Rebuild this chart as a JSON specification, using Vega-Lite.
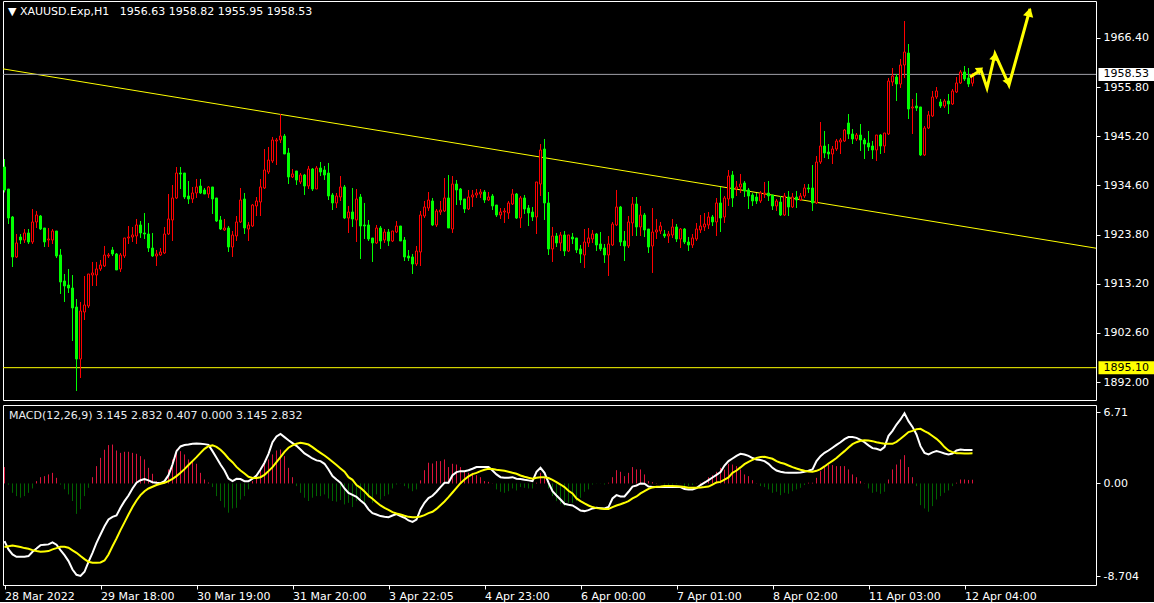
{
"$schema": "https://vega.github.io/schema/vega-lite/v6.json",
"background": "#000000",
"padding": 0,
"spacing": 3,
"config": {
 "view": {"stroke": "#FFFFFF", "strokeWidth": 1},
 "font": "DejaVu Sans",
 "scale": {"continuousPadding": 0},
 "axis": {"grid": false, "domain": false, "ticks": true, "tickColor": "#FFFFFF", "tickSize": 4, "labelColor": "#FFFFFF", "labelFont": "DejaVu Sans", "labelFontSize": 11, "title": null, "labelBound": false, "labelFlush": false, "labelOverlap": false}
},
"datasets": {
"bars": [
{"n":0,"open":1938.5,"high":1940.23,"low":1933.0,"close":1933.53,"macd":-5.42,"signal":-5.98,"hist":1.54},
{"n":1,"open":1933.74,"high":1933.74,"low":1926.17,"close":1927.47,"macd":-6.2,"signal":-5.9,"hist":-0.11},
{"n":2,"open":1927.69,"high":1927.9,"low":1916.87,"close":1919.04,"macd":-6.68,"signal":-5.83,"hist":-0.88},
{"n":3,"open":1919.04,"high":1924.01,"low":1918.82,"close":1922.07,"macd":-6.9,"signal":-5.9,"hist":-1.19},
{"n":4,"open":1923.36,"high":1924.01,"low":1921.85,"close":1922.71,"macd":-6.9,"signal":-5.98,"hist":-1.34},
{"n":5,"open":1922.71,"high":1925.09,"low":1922.07,"close":1924.23,"macd":-6.9,"signal":-6.08,"hist":-1.19},
{"n":6,"open":1924.23,"high":1925.09,"low":1921.85,"close":1922.28,"macd":-6.83,"signal":-6.14,"hist":-0.88},
{"n":7,"open":1922.28,"high":1929.42,"low":1921.85,"close":1926.61,"macd":-6.42,"signal":-6.27,"hist":-0.47},
{"n":8,"open":1926.61,"high":1928.99,"low":1925.31,"close":1928.12,"macd":-6.12,"signal":-6.36,"hist":0.22},
{"n":9,"open":1927.9,"high":1928.12,"low":1924.88,"close":1925.09,"macd":-5.8,"signal":-6.42,"hist":0.59},
{"n":10,"open":1925.31,"high":1925.31,"low":1921.2,"close":1922.28,"macd":-5.76,"signal":-6.39,"hist":0.69},
{"n":11,"open":1922.71,"high":1925.31,"low":1921.2,"close":1922.93,"macd":-5.73,"signal":-6.36,"hist":0.85},
{"n":12,"open":1922.71,"high":1925.09,"low":1921.85,"close":1924.66,"macd":-5.54,"signal":-6.2,"hist":1.0},
{"n":13,"open":1924.66,"high":1924.66,"low":1918.82,"close":1919.25,"macd":-5.76,"signal":-6.08,"hist":0.53},
{"n":14,"open":1919.47,"high":1920.77,"low":1911.04,"close":1913.63,"macd":-6.27,"signal":-5.95,"hist":-0.11},
{"n":15,"open":1913.85,"high":1915.36,"low":1909.31,"close":1912.77,"macd":-6.74,"signal":-5.95,"hist":-0.55},
{"n":16,"open":1912.98,"high":1916.44,"low":1911.25,"close":1912.33,"macd":-7.3,"signal":-6.05,"hist":-1.03},
{"n":17,"open":1912.33,"high":1915.14,"low":1900.87,"close":1908.01,"macd":-8.09,"signal":-6.3,"hist":-1.65},
{"n":18,"open":1908.22,"high":1909.95,"low":1890.06,"close":1896.98,"macd":-8.59,"signal":-6.52,"hist":-2.86},
{"n":19,"open":1896.98,"high":1909.31,"low":1892.87,"close":1907.36,"macd":-8.7,"signal":-6.83,"hist":-2.42},
{"n":20,"open":1907.14,"high":1914.93,"low":1905.41,"close":1908.66,"macd":-8.31,"signal":-7.12,"hist":-1.19},
{"n":21,"open":1908.44,"high":1915.36,"low":1908.01,"close":1915.36,"macd":-7.37,"signal":-7.37,"hist":-0.41},
{"n":22,"open":1915.14,"high":1917.96,"low":1912.77,"close":1915.58,"macd":-6.52,"signal":-7.46,"hist":0.59},
{"n":23,"open":1915.14,"high":1917.96,"low":1912.77,"close":1916.44,"macd":-5.58,"signal":-7.46,"hist":1.63},
{"n":24,"open":1916.44,"high":1918.39,"low":1916.01,"close":1917.31,"macd":-4.8,"signal":-7.43,"hist":2.41},
{"n":25,"open":1917.09,"high":1921.42,"low":1916.87,"close":1919.47,"macd":-4.02,"signal":-7.24,"hist":3.17},
{"n":26,"open":1919.25,"high":1919.9,"low":1918.82,"close":1919.47,"macd":-3.39,"signal":-6.68,"hist":3.61},
{"n":27,"open":1920.55,"high":1921.2,"low":1919.25,"close":1919.69,"macd":-3.14,"signal":-5.9,"hist":3.66},
{"n":28,"open":1919.69,"high":1919.9,"low":1916.23,"close":1916.23,"macd":-3.01,"signal":-5.17,"hist":3.1},
{"n":29,"open":1916.44,"high":1919.9,"low":1915.79,"close":1919.47,"macd":-2.29,"signal":-4.39,"hist":2.88},
{"n":30,"open":1919.25,"high":1923.15,"low":1918.82,"close":1923.15,"macd":-1.66,"signal":-3.66,"hist":2.98},
{"n":31,"open":1923.15,"high":1925.74,"low":1921.85,"close":1923.36,"macd":-1.13,"signal":-2.92,"hist":2.98},
{"n":32,"open":1923.36,"high":1925.53,"low":1922.28,"close":1923.8,"macd":-0.47,"signal":-2.22,"hist":2.88},
{"n":33,"open":1923.58,"high":1927.26,"low":1921.85,"close":1925.96,"macd":0.07,"signal":-1.6,"hist":2.79},
{"n":34,"open":1925.96,"high":1926.82,"low":1923.15,"close":1924.23,"macd":0.31,"signal":-1.1,"hist":2.57},
{"n":35,"open":1924.23,"high":1928.55,"low":1922.93,"close":1924.01,"macd":0.41,"signal":-0.73,"hist":2.26},
{"n":36,"open":1924.01,"high":1926.39,"low":1920.12,"close":1920.98,"macd":0.29,"signal":-0.47,"hist":1.47},
{"n":37,"open":1920.98,"high":1924.23,"low":1919.04,"close":1919.25,"macd":0.12,"signal":-0.31,"hist":0.91},
{"n":38,"open":1919.25,"high":1920.55,"low":1917.09,"close":1919.69,"macd":0.07,"signal":-0.15,"hist":0.22},
{"n":39,"open":1919.47,"high":1920.98,"low":1919.25,"close":1920.12,"macd":0.03,"signal":-0.03,"hist":0.02},
{"n":40,"open":1919.9,"high":1925.53,"low":1919.69,"close":1924.01,"macd":0.22,"signal":0.07,"hist":0.22},
{"n":41,"open":1924.01,"high":1932.66,"low":1923.8,"close":1927.26,"macd":0.78,"signal":0.22,"hist":1.32},
{"n":42,"open":1927.04,"high":1934.61,"low":1922.5,"close":1931.8,"macd":1.78,"signal":0.44,"hist":2.26},
{"n":43,"open":1931.8,"high":1938.5,"low":1931.58,"close":1937.2,"macd":3.04,"signal":0.69,"hist":3.19},
{"n":44,"open":1937.2,"high":1938.5,"low":1933.74,"close":1936.99,"macd":3.48,"signal":1.0,"hist":3.04},
{"n":45,"open":1937.2,"high":1937.2,"low":1931.58,"close":1932.01,"macd":3.61,"signal":1.35,"hist":2.73},
{"n":46,"open":1932.23,"high":1935.47,"low":1930.5,"close":1931.58,"macd":3.66,"signal":1.73,"hist":2.26},
{"n":47,"open":1931.58,"high":1934.18,"low":1930.72,"close":1932.88,"macd":3.73,"signal":2.1,"hist":2.09},
{"n":48,"open":1932.88,"high":1935.91,"low":1931.8,"close":1934.18,"macd":3.76,"signal":2.48,"hist":1.85},
{"n":49,"open":1934.39,"high":1935.91,"low":1932.66,"close":1932.88,"macd":3.73,"signal":2.88,"hist":1.0},
{"n":50,"open":1933.53,"high":1933.96,"low":1932.66,"close":1932.66,"macd":3.7,"signal":3.26,"hist":0.37},
{"n":51,"open":1932.66,"high":1934.39,"low":1931.8,"close":1934.18,"macd":3.63,"signal":3.51,"hist":0.09},
{"n":52,"open":1934.18,"high":1934.18,"low":1928.34,"close":1931.58,"macd":3.04,"signal":3.58,"hist":-0.34},
{"n":53,"open":1931.8,"high":1931.8,"low":1926.61,"close":1926.82,"macd":2.41,"signal":3.44,"hist":-1.19},
{"n":54,"open":1927.04,"high":1927.9,"low":1924.88,"close":1925.09,"macd":1.78,"signal":3.17,"hist":-1.65},
{"n":55,"open":1924.88,"high":1927.26,"low":1924.66,"close":1925.31,"macd":1.22,"signal":2.79,"hist":-2.26},
{"n":56,"open":1925.31,"high":1925.74,"low":1920.12,"close":1921.2,"macd":0.47,"signal":2.35,"hist":-2.75},
{"n":57,"open":1921.2,"high":1924.66,"low":1919.04,"close":1923.8,"macd":0.22,"signal":2.0,"hist":-2.35},
{"n":58,"open":1923.58,"high":1927.9,"low":1922.5,"close":1926.61,"macd":0.44,"signal":1.56,"hist":-2.29},
{"n":59,"open":1926.61,"high":1933.96,"low":1926.39,"close":1931.36,"macd":0.41,"signal":1.22,"hist":-1.51},
{"n":60,"open":1931.58,"high":1932.88,"low":1924.01,"close":1925.31,"macd":0.22,"signal":0.94,"hist":-1.19},
{"n":61,"open":1925.09,"high":1926.61,"low":1922.5,"close":1925.96,"macd":0.22,"signal":0.63,"hist":-0.55},
{"n":62,"open":1925.74,"high":1930.5,"low":1925.53,"close":1930.28,"macd":0.44,"signal":0.51,"hist":0.22},
{"n":63,"open":1930.07,"high":1932.01,"low":1927.9,"close":1931.15,"macd":0.75,"signal":0.51,"hist":0.69},
{"n":64,"open":1930.93,"high":1935.91,"low":1927.9,"close":1934.18,"macd":1.32,"signal":0.59,"hist":1.32},
{"n":65,"open":1933.96,"high":1942.39,"low":1933.74,"close":1937.85,"macd":1.95,"signal":0.81,"hist":1.95},
{"n":66,"open":1937.42,"high":1942.83,"low":1936.99,"close":1940.01,"macd":2.79,"signal":1.16,"hist":2.26},
{"n":67,"open":1939.8,"high":1944.99,"low":1939.37,"close":1944.34,"macd":3.88,"signal":1.54,"hist":2.73},
{"n":68,"open":1944.12,"high":1944.77,"low":1938.93,"close":1944.34,"macd":4.42,"signal":2.0,"hist":3.1},
{"n":69,"open":1944.34,"high":1949.96,"low":1943.69,"close":1945.2,"macd":4.66,"signal":2.48,"hist":3.19},
{"n":70,"open":1945.2,"high":1945.64,"low":1941.31,"close":1941.31,"macd":4.36,"signal":2.98,"hist":2.57},
{"n":71,"open":1941.53,"high":1942.61,"low":1934.82,"close":1936.34,"macd":4.07,"signal":3.36,"hist":1.47},
{"n":72,"open":1936.34,"high":1938.07,"low":1936.12,"close":1936.99,"macd":3.8,"signal":3.58,"hist":0.59},
{"n":73,"open":1937.64,"high":1937.64,"low":1934.61,"close":1935.69,"macd":3.54,"signal":3.73,"hist":-0.25},
{"n":74,"open":1935.26,"high":1937.2,"low":1934.82,"close":1936.77,"macd":3.2,"signal":3.83,"hist":-0.88},
{"n":75,"open":1936.77,"high":1936.99,"low":1932.45,"close":1934.39,"macd":2.82,"signal":3.76,"hist":-1.34},
{"n":76,"open":1934.39,"high":1938.72,"low":1933.74,"close":1938.07,"macd":2.6,"signal":3.66,"hist":-1.65},
{"n":77,"open":1938.07,"high":1938.28,"low":1933.31,"close":1933.74,"macd":2.35,"signal":3.42,"hist":-1.34},
{"n":78,"open":1933.74,"high":1938.72,"low":1933.74,"close":1938.28,"macd":2.17,"signal":3.14,"hist":-1.19},
{"n":79,"open":1938.28,"high":1939.58,"low":1936.55,"close":1937.42,"macd":2.1,"signal":2.88,"hist":-1.19},
{"n":80,"open":1937.85,"high":1938.72,"low":1935.69,"close":1936.77,"macd":1.85,"signal":2.63,"hist":-1.03},
{"n":81,"open":1937.2,"high":1939.37,"low":1931.36,"close":1932.23,"macd":1.32,"signal":2.35,"hist":-1.41},
{"n":82,"open":1932.45,"high":1932.88,"low":1929.2,"close":1930.72,"macd":0.69,"signal":2.04,"hist":-1.65},
{"n":83,"open":1930.72,"high":1932.88,"low":1929.63,"close":1932.23,"macd":0.37,"signal":1.73,"hist":-1.71},
{"n":84,"open":1932.01,"high":1936.55,"low":1931.15,"close":1934.18,"macd":0.07,"signal":1.41,"hist":-1.56},
{"n":85,"open":1934.18,"high":1934.61,"low":1927.26,"close":1927.47,"macd":-0.47,"signal":1.1,"hist":-1.97},
{"n":86,"open":1927.47,"high":1930.07,"low":1924.23,"close":1928.77,"macd":-0.88,"signal":0.59,"hist":-1.82},
{"n":87,"open":1928.77,"high":1933.96,"low":1925.53,"close":1927.26,"macd":-1.07,"signal":0.34,"hist":-2.22},
{"n":88,"open":1927.04,"high":1933.74,"low":1922.28,"close":1931.58,"macd":-1.25,"signal":-0.15,"hist":-1.66},
{"n":89,"open":1932.01,"high":1932.66,"low":1918.6,"close":1925.74,"macd":-1.6,"signal":-0.41,"hist":-1.66},
{"n":90,"open":1925.96,"high":1930.72,"low":1922.93,"close":1925.74,"macd":-1.91,"signal":-0.75,"hist":-1.82},
{"n":91,"open":1925.96,"high":1927.04,"low":1922.5,"close":1922.93,"macd":-2.44,"signal":-1.16,"hist":-1.35},
{"n":92,"open":1923.15,"high":1923.15,"low":1917.96,"close":1922.07,"macd":-2.79,"signal":-1.44,"hist":-1.82},
{"n":93,"open":1922.07,"high":1925.96,"low":1921.85,"close":1925.31,"macd":-2.92,"signal":-1.76,"hist":-1.03},
{"n":94,"open":1925.31,"high":1925.74,"low":1920.77,"close":1922.5,"macd":-3.07,"signal":-2.07,"hist":-1.51},
{"n":95,"open":1922.71,"high":1925.09,"low":1922.07,"close":1924.44,"macd":-3.14,"signal":-2.29,"hist":-1.19},
{"n":96,"open":1924.44,"high":1925.09,"low":1921.42,"close":1922.5,"macd":-3.17,"signal":-2.48,"hist":-1.03},
{"n":97,"open":1922.5,"high":1924.66,"low":1922.28,"close":1924.66,"macd":-3.01,"signal":-2.7,"hist":-0.47},
{"n":98,"open":1924.44,"high":1926.82,"low":1924.23,"close":1925.74,"macd":-2.88,"signal":-2.82,"hist":-0.1},
{"n":99,"open":1925.74,"high":1925.74,"low":1922.5,"close":1922.5,"macd":-3.07,"signal":-2.92,"hist":-0.02},
{"n":100,"open":1922.71,"high":1923.36,"low":1918.17,"close":1919.04,"macd":-3.22,"signal":-3.04,"hist":-0.25},
{"n":101,"open":1919.25,"high":1920.55,"low":1918.17,"close":1918.82,"macd":-3.48,"signal":-3.14,"hist":-0.47},
{"n":102,"open":1919.04,"high":1919.69,"low":1915.36,"close":1917.52,"macd":-3.61,"signal":-3.17,"hist":-0.73},
{"n":103,"open":1917.52,"high":1921.42,"low":1917.09,"close":1920.33,"macd":-3.39,"signal":-3.17,"hist":-0.56},
{"n":104,"open":1920.12,"high":1928.99,"low":1917.09,"close":1928.12,"macd":-2.44,"signal":-3.1,"hist":0.29},
{"n":105,"open":1927.9,"high":1931.15,"low":1927.47,"close":1929.85,"macd":-1.82,"signal":-2.98,"hist":1.25},
{"n":106,"open":1929.63,"high":1933.09,"low":1928.99,"close":1931.36,"macd":-1.38,"signal":-2.79,"hist":1.95},
{"n":107,"open":1931.15,"high":1931.8,"low":1925.74,"close":1925.96,"macd":-1.16,"signal":-2.66,"hist":1.88},
{"n":108,"open":1925.96,"high":1929.42,"low":1925.53,"close":1928.99,"macd":-0.78,"signal":-2.39,"hist":2.1},
{"n":109,"open":1928.77,"high":1931.15,"low":1928.12,"close":1929.2,"macd":-0.34,"signal":-2.04,"hist":2.1},
{"n":110,"open":1928.99,"high":1936.12,"low":1928.77,"close":1931.8,"macd":0.07,"signal":-1.69,"hist":2.26},
{"n":111,"open":1931.8,"high":1936.77,"low":1925.31,"close":1925.31,"macd":0.07,"signal":-1.29,"hist":1.54},
{"n":112,"open":1925.09,"high":1936.55,"low":1924.23,"close":1934.82,"macd":0.78,"signal":-0.85,"hist":1.85},
{"n":113,"open":1934.82,"high":1935.69,"low":1930.28,"close":1933.53,"macd":1.07,"signal":-0.41,"hist":1.78},
{"n":114,"open":1933.74,"high":1933.96,"low":1930.28,"close":1931.36,"macd":1.16,"signal":0.03,"hist":1.54},
{"n":115,"open":1931.58,"high":1931.58,"low":1928.55,"close":1929.42,"macd":1.16,"signal":0.37,"hist":1.16},
{"n":116,"open":1929.42,"high":1933.53,"low":1929.2,"close":1932.01,"macd":1.25,"signal":0.66,"hist":1.0},
{"n":117,"open":1932.01,"high":1933.53,"low":1929.85,"close":1932.45,"macd":1.38,"signal":0.88,"hist":1.0},
{"n":118,"open":1932.45,"high":1933.74,"low":1931.8,"close":1932.88,"macd":1.54,"signal":1.0,"hist":0.78},
{"n":119,"open":1932.66,"high":1933.74,"low":1931.8,"close":1933.09,"macd":1.56,"signal":1.16,"hist":0.59},
{"n":120,"open":1933.09,"high":1933.53,"low":1930.72,"close":1931.36,"macd":1.56,"signal":1.29,"hist":0.22},
{"n":121,"open":1931.36,"high":1933.09,"low":1931.15,"close":1932.01,"macd":1.54,"signal":1.38,"hist":0.15},
{"n":122,"open":1932.23,"high":1932.66,"low":1929.2,"close":1930.07,"macd":1.22,"signal":1.35,"hist":0.02},
{"n":123,"open":1930.28,"high":1930.28,"low":1927.69,"close":1928.12,"macd":0.85,"signal":1.29,"hist":-0.56},
{"n":124,"open":1928.12,"high":1929.63,"low":1927.26,"close":1928.77,"macd":0.59,"signal":1.25,"hist":-0.78},
{"n":125,"open":1928.77,"high":1929.63,"low":1926.39,"close":1928.99,"macd":0.53,"signal":1.19,"hist":-0.88},
{"n":126,"open":1928.55,"high":1931.15,"low":1927.26,"close":1930.72,"macd":0.53,"signal":1.1,"hist":-0.73},
{"n":127,"open":1930.5,"high":1933.74,"low":1930.28,"close":1932.66,"macd":0.59,"signal":1.0,"hist":-0.47},
{"n":128,"open":1932.66,"high":1932.88,"low":1927.26,"close":1927.47,"macd":0.44,"signal":0.91,"hist":-0.66},
{"n":129,"open":1927.47,"high":1932.23,"low":1925.31,"close":1931.8,"macd":0.41,"signal":0.75,"hist":-0.34},
{"n":130,"open":1931.8,"high":1932.45,"low":1928.34,"close":1929.42,"macd":0.34,"signal":0.63,"hist":-0.41},
{"n":131,"open":1929.63,"high":1930.28,"low":1925.74,"close":1928.55,"macd":0.29,"signal":0.53,"hist":-0.47},
{"n":132,"open":1928.77,"high":1929.85,"low":1926.82,"close":1927.69,"macd":0.22,"signal":0.44,"hist":-0.47},
{"n":133,"open":1927.69,"high":1935.26,"low":1924.01,"close":1935.26,"macd":1.1,"signal":0.53,"hist":0.07},
{"n":134,"open":1934.82,"high":1943.47,"low":1932.23,"close":1942.18,"macd":1.47,"signal":0.59,"hist":1.0},
{"n":135,"open":1942.39,"high":1944.56,"low":1927.04,"close":1930.72,"macd":1.0,"signal":0.59,"hist":0.53},
{"n":136,"open":1930.72,"high":1933.09,"low":1919.47,"close":1920.77,"macd":0.07,"signal":0.51,"hist":-0.47},
{"n":137,"open":1920.77,"high":1925.53,"low":1917.96,"close":1923.58,"macd":-0.73,"signal":0.34,"hist":-1.19},
{"n":138,"open":1923.58,"high":1924.23,"low":1921.2,"close":1922.07,"macd":-1.13,"signal":0.12,"hist":-1.66},
{"n":139,"open":1922.07,"high":1924.44,"low":1920.33,"close":1923.8,"macd":-1.51,"signal":-0.1,"hist":-1.91},
{"n":140,"open":1923.8,"high":1924.66,"low":1919.25,"close":1920.33,"macd":-1.91,"signal":-0.34,"hist":-2.13},
{"n":141,"open":1920.33,"high":1923.8,"low":1920.12,"close":1923.8,"macd":-2.0,"signal":-0.69,"hist":-1.82},
{"n":142,"open":1923.36,"high":1924.23,"low":1921.85,"close":1922.93,"macd":-2.07,"signal":-0.94,"hist":-1.82},
{"n":143,"open":1923.15,"high":1923.15,"low":1919.9,"close":1920.55,"macd":-2.29,"signal":-1.41,"hist":-1.66},
{"n":144,"open":1920.77,"high":1921.63,"low":1917.74,"close":1919.69,"macd":-2.54,"signal":-1.66,"hist":-1.35},
{"n":145,"open":1919.47,"high":1925.09,"low":1916.66,"close":1922.28,"macd":-2.6,"signal":-1.88,"hist":-0.78},
{"n":146,"open":1922.07,"high":1925.31,"low":1921.2,"close":1923.15,"macd":-2.51,"signal":-2.07,"hist":-0.56},
{"n":147,"open":1922.93,"high":1924.88,"low":1922.07,"close":1924.01,"macd":-2.35,"signal":-2.22,"hist":-0.1},
{"n":148,"open":1924.01,"high":1924.23,"low":1920.33,"close":1921.63,"macd":-2.29,"signal":-2.32,"hist":-0.02},
{"n":149,"open":1921.85,"high":1924.44,"low":1920.33,"close":1920.77,"macd":-2.32,"signal":-2.35,"hist":-0.02},
{"n":150,"open":1920.98,"high":1921.85,"low":1917.74,"close":1919.47,"macd":-2.35,"signal":-2.39,"hist":-0.1},
{"n":151,"open":1919.47,"high":1923.58,"low":1914.93,"close":1921.85,"macd":-2.22,"signal":-2.39,"hist":0.07},
{"n":152,"open":1921.63,"high":1926.61,"low":1921.42,"close":1926.17,"macd":-1.41,"signal":-2.22,"hist":0.59},
{"n":153,"open":1925.96,"high":1933.53,"low":1925.74,"close":1929.85,"macd":-1.1,"signal":-2.07,"hist":1.25},
{"n":154,"open":1929.85,"high":1930.07,"low":1921.42,"close":1922.28,"macd":-1.22,"signal":-1.95,"hist":1.1},
{"n":155,"open":1922.5,"high":1924.66,"low":1918.17,"close":1921.42,"macd":-1.22,"signal":-1.82,"hist":0.69},
{"n":156,"open":1921.42,"high":1927.9,"low":1920.98,"close":1926.61,"macd":-0.78,"signal":-1.66,"hist":1.0},
{"n":157,"open":1926.39,"high":1932.01,"low":1923.58,"close":1930.5,"macd":-0.29,"signal":-1.41,"hist":1.54},
{"n":158,"open":1930.5,"high":1932.01,"low":1923.58,"close":1925.53,"macd":-0.19,"signal":-1.22,"hist":1.32},
{"n":159,"open":1925.53,"high":1930.07,"low":1923.58,"close":1928.12,"macd":0.0,"signal":-0.94,"hist":1.32},
{"n":160,"open":1928.12,"high":1928.55,"low":1923.36,"close":1924.88,"macd":-0.03,"signal":-0.73,"hist":0.85},
{"n":161,"open":1925.09,"high":1925.09,"low":1919.9,"close":1921.2,"macd":-0.29,"signal":-0.51,"hist":0.22},
{"n":162,"open":1921.42,"high":1929.63,"low":1915.58,"close":1924.44,"macd":-0.34,"signal":-0.37,"hist":0.12},
{"n":163,"open":1924.44,"high":1927.26,"low":1922.93,"close":1924.88,"macd":-0.34,"signal":-0.31,"hist":0.03},
{"n":164,"open":1924.66,"high":1926.61,"low":1924.01,"close":1925.74,"macd":-0.34,"signal":-0.29,"hist":-0.02},
{"n":165,"open":1924.01,"high":1924.88,"low":1923.15,"close":1923.58,"macd":-0.34,"signal":-0.25,"hist":-0.1},
{"n":166,"open":1923.58,"high":1924.66,"low":1922.07,"close":1924.01,"macd":-0.34,"signal":-0.25,"hist":-0.13},
{"n":167,"open":1923.8,"high":1927.26,"low":1923.15,"close":1925.53,"macd":-0.34,"signal":-0.25,"hist":-0.1},
{"n":168,"open":1925.53,"high":1926.17,"low":1922.28,"close":1922.93,"macd":-0.31,"signal":-0.26,"hist":-0.06},
{"n":169,"open":1922.93,"high":1925.31,"low":1920.98,"close":1925.09,"macd":-0.34,"signal":-0.29,"hist":-0.02},
{"n":170,"open":1925.09,"high":1925.31,"low":1921.85,"close":1922.28,"macd":-0.53,"signal":-0.34,"hist":-0.34},
{"n":171,"open":1922.28,"high":1923.36,"low":1920.33,"close":1921.63,"macd":-0.56,"signal":-0.41,"hist":-0.25},
{"n":172,"open":1921.63,"high":1924.01,"low":1920.98,"close":1923.15,"macd":-0.56,"signal":-0.41,"hist":-0.15},
{"n":173,"open":1922.93,"high":1926.39,"low":1922.5,"close":1925.09,"macd":-0.44,"signal":-0.41,"hist":0.02},
{"n":174,"open":1924.88,"high":1928.12,"low":1924.23,"close":1925.74,"macd":-0.15,"signal":-0.37,"hist":0.07},
{"n":175,"open":1925.53,"high":1928.55,"low":1924.66,"close":1926.17,"macd":0.07,"signal":-0.34,"hist":0.22},
{"n":176,"open":1925.96,"high":1928.77,"low":1925.09,"close":1927.69,"macd":0.31,"signal":-0.29,"hist":0.59},
{"n":177,"open":1927.69,"high":1928.12,"low":1925.74,"close":1926.61,"macd":0.56,"signal":-0.1,"hist":0.78},
{"n":178,"open":1926.61,"high":1931.8,"low":1923.58,"close":1930.72,"macd":0.81,"signal":0.1,"hist":1.1},
{"n":179,"open":1930.72,"high":1934.18,"low":1924.44,"close":1927.47,"macd":1.07,"signal":0.15,"hist":1.47},
{"n":180,"open":1927.69,"high":1932.23,"low":1926.39,"close":1931.8,"macd":1.69,"signal":0.37,"hist":1.3},
{"n":181,"open":1931.58,"high":1937.85,"low":1930.07,"close":1936.55,"macd":2.1,"signal":0.56,"hist":1.85},
{"n":182,"open":1936.77,"high":1937.64,"low":1929.85,"close":1931.8,"macd":2.35,"signal":1.0,"hist":1.78},
{"n":183,"open":1933.74,"high":1935.47,"low":1932.23,"close":1934.18,"macd":2.6,"signal":1.22,"hist":1.63},
{"n":184,"open":1934.18,"high":1936.99,"low":1932.88,"close":1934.82,"macd":2.79,"signal":1.51,"hist":1.32},
{"n":185,"open":1935.04,"high":1935.47,"low":1932.01,"close":1933.31,"macd":2.73,"signal":1.82,"hist":0.85},
{"n":186,"open":1933.53,"high":1933.96,"low":1929.42,"close":1932.23,"macd":2.6,"signal":2.04,"hist":0.69},
{"n":187,"open":1932.45,"high":1932.88,"low":1930.07,"close":1931.15,"macd":2.39,"signal":2.22,"hist":0.31},
{"n":188,"open":1932.01,"high":1932.88,"low":1930.5,"close":1931.15,"macd":2.26,"signal":2.39,"hist":0.02},
{"n":189,"open":1931.15,"high":1933.31,"low":1930.72,"close":1932.88,"macd":2.2,"signal":2.48,"hist":-0.25},
{"n":190,"open":1932.66,"high":1935.26,"low":1931.8,"close":1932.88,"macd":2.1,"signal":2.51,"hist":-0.34},
{"n":191,"open":1932.88,"high":1935.47,"low":1931.15,"close":1932.23,"macd":1.85,"signal":2.41,"hist":-0.56},
{"n":192,"open":1932.45,"high":1932.45,"low":1929.2,"close":1930.07,"macd":1.47,"signal":2.32,"hist":-0.88},
{"n":193,"open":1930.07,"high":1931.58,"low":1928.99,"close":1931.15,"macd":1.22,"signal":2.1,"hist":-0.78},
{"n":194,"open":1930.93,"high":1932.23,"low":1927.9,"close":1928.12,"macd":1.1,"signal":1.95,"hist":-1.1},
{"n":195,"open":1928.12,"high":1932.88,"low":1927.9,"close":1932.23,"macd":1.03,"signal":1.85,"hist":-0.88},
{"n":196,"open":1932.01,"high":1933.31,"low":1927.9,"close":1929.85,"macd":1.0,"signal":1.69,"hist":-0.97},
{"n":197,"open":1929.85,"high":1932.88,"low":1929.63,"close":1932.01,"macd":1.0,"signal":1.54,"hist":-0.73},
{"n":198,"open":1932.01,"high":1933.31,"low":1929.63,"close":1931.36,"macd":1.0,"signal":1.41,"hist":-0.56},
{"n":199,"open":1931.36,"high":1932.88,"low":1931.15,"close":1932.23,"macd":1.03,"signal":1.29,"hist":-0.41},
{"n":200,"open":1932.23,"high":1934.82,"low":1931.8,"close":1933.96,"macd":1.1,"signal":1.19,"hist":-0.15},
{"n":201,"open":1933.96,"high":1934.82,"low":1932.88,"close":1933.74,"macd":1.19,"signal":1.13,"hist":0.07},
{"n":202,"open":1933.96,"high":1938.93,"low":1928.99,"close":1930.72,"macd":1.32,"signal":1.1,"hist":0.07},
{"n":203,"open":1930.72,"high":1940.88,"low":1930.5,"close":1939.58,"macd":2.1,"signal":1.19,"hist":0.53},
{"n":204,"open":1939.58,"high":1948.23,"low":1939.15,"close":1943.04,"macd":2.57,"signal":1.35,"hist":1.16},
{"n":205,"open":1943.04,"high":1946.29,"low":1940.45,"close":1941.53,"macd":2.88,"signal":1.6,"hist":1.63},
{"n":206,"open":1941.74,"high":1943.47,"low":1940.23,"close":1941.31,"macd":3.1,"signal":1.88,"hist":1.78},
{"n":207,"open":1941.31,"high":1943.04,"low":1939.15,"close":1942.39,"macd":3.36,"signal":2.13,"hist":1.73},
{"n":208,"open":1942.39,"high":1944.56,"low":1941.96,"close":1944.12,"macd":3.63,"signal":2.39,"hist":1.63},
{"n":209,"open":1943.91,"high":1944.77,"low":1941.31,"close":1944.34,"macd":3.88,"signal":2.73,"hist":1.63},
{"n":210,"open":1944.12,"high":1946.72,"low":1943.91,"close":1946.5,"macd":4.17,"signal":3.04,"hist":1.63},
{"n":211,"open":1948.02,"high":1949.96,"low":1944.56,"close":1945.64,"macd":4.36,"signal":3.39,"hist":1.32},
{"n":212,"open":1945.64,"high":1946.72,"low":1943.47,"close":1944.56,"macd":4.36,"signal":3.7,"hist":0.85},
{"n":213,"open":1944.56,"high":1945.85,"low":1944.12,"close":1945.42,"macd":4.29,"signal":3.88,"hist":0.59},
{"n":214,"open":1945.42,"high":1947.8,"low":1941.96,"close":1944.34,"macd":4.1,"signal":4.02,"hist":0.22},
{"n":215,"open":1944.34,"high":1944.77,"low":1940.23,"close":1943.47,"macd":3.88,"signal":4.07,"hist":0.02},
{"n":216,"open":1943.69,"high":1946.29,"low":1941.96,"close":1942.83,"macd":3.58,"signal":4.05,"hist":-0.47},
{"n":217,"open":1943.04,"high":1944.12,"low":1940.23,"close":1942.18,"macd":3.32,"signal":3.98,"hist":-0.88},
{"n":218,"open":1942.18,"high":1945.42,"low":1939.8,"close":1945.42,"macd":3.26,"signal":3.88,"hist":-0.78},
{"n":219,"open":1945.42,"high":1945.64,"low":1941.31,"close":1943.04,"macd":3.14,"signal":3.8,"hist":-0.97},
{"n":220,"open":1943.04,"high":1945.85,"low":1941.53,"close":1945.85,"macd":3.42,"signal":3.73,"hist":-0.78},
{"n":221,"open":1945.64,"high":1957.75,"low":1945.42,"close":1957.1,"macd":4.48,"signal":3.73,"hist":0.37},
{"n":222,"open":1956.88,"high":1959.91,"low":1956.02,"close":1958.18,"macd":4.95,"signal":3.73,"hist":1.32},
{"n":223,"open":1957.96,"high":1958.61,"low":1952.77,"close":1956.45,"macd":5.54,"signal":3.92,"hist":1.78},
{"n":224,"open":1956.45,"high":1961.86,"low":1955.59,"close":1960.56,"macd":6.02,"signal":4.2,"hist":2.26},
{"n":225,"open":1960.56,"high":1970.07,"low":1957.75,"close":1963.37,"macd":6.6,"signal":4.51,"hist":2.66},
{"n":226,"open":1963.15,"high":1965.1,"low":1948.88,"close":1951.04,"macd":5.86,"signal":4.83,"hist":1.54},
{"n":227,"open":1951.26,"high":1953.21,"low":1945.64,"close":1951.48,"macd":5.32,"signal":4.95,"hist":0.59},
{"n":228,"open":1951.69,"high":1954.5,"low":1950.61,"close":1951.26,"macd":4.61,"signal":5.1,"hist":-0.25},
{"n":229,"open":1951.48,"high":1951.48,"low":1940.88,"close":1941.1,"macd":3.51,"signal":5.14,"hist":-2.04},
{"n":230,"open":1941.1,"high":1947.37,"low":1940.88,"close":1946.93,"macd":2.88,"signal":4.92,"hist":-2.35},
{"n":231,"open":1946.93,"high":1950.61,"low":1946.72,"close":1949.75,"macd":2.73,"signal":4.73,"hist":-2.66},
{"n":232,"open":1949.53,"high":1954.94,"low":1949.31,"close":1953.64,"macd":2.92,"signal":4.46,"hist":-2.13},
{"n":233,"open":1953.64,"high":1955.8,"low":1953.21,"close":1954.94,"macd":3.04,"signal":4.2,"hist":-1.51},
{"n":234,"open":1952.56,"high":1953.21,"low":1951.26,"close":1951.69,"macd":2.95,"signal":3.85,"hist":-1.19},
{"n":235,"open":1951.69,"high":1953.21,"low":1951.26,"close":1952.77,"macd":2.82,"signal":3.42,"hist":-0.88},
{"n":236,"open":1952.77,"high":1954.29,"low":1949.96,"close":1952.13,"macd":2.73,"signal":3.1,"hist":-0.66},
{"n":237,"open":1952.13,"high":1955.37,"low":1951.91,"close":1954.94,"macd":2.82,"signal":2.95,"hist":-0.25},
{"n":238,"open":1954.72,"high":1957.96,"low":1954.5,"close":1956.67,"macd":3.1,"signal":2.85,"hist":0.07},
{"n":239,"open":1956.67,"high":1959.48,"low":1956.45,"close":1959.05,"macd":3.2,"signal":2.84,"hist":0.37},
{"n":240,"open":1959.05,"high":1960.34,"low":1957.1,"close":1957.53,"macd":3.15,"signal":2.83,"hist":0.37},
{"n":241,"open":1957.75,"high":1959.91,"low":1955.8,"close":1956.45,"macd":3.14,"signal":2.83,"hist":0.33},
{"n":242,"open":1956.63,"high":1958.82,"low":1955.95,"close":1958.53,"macd":3.145,"signal":2.832,"hist":0.35}
]
},
"vconcat": [
{
 "width": 1093,
 "height": 399,
 "layer": [
  {
   "data": {"values": [{"n": -0.375, "p": 1959.72}, {"n": 272.875, "p": 1920.94}]},
   "mark": {"type": "line", "color": "#FFFF00", "strokeWidth": 1},
   "encoding": {
    "x": {"field": "n", "type": "quantitative", "scale": {"domain": [-0.375, 272.875], "nice": false, "zero": false, "padding": 0}, "axis": null},
    "y": {"field": "p", "type": "quantitative", "scale": {"domain": [1888.11, 1974.4], "nice": false, "zero": false, "padding": 0},
      "axis": {"orient": "right", "values": [1966.4, 1955.8, 1945.2, 1934.6, 1923.8, 1913.2, 1902.6, 1892.0], "format": ".2f", "labelPadding": 3, "tickSize": 4}}
   }
  },
  {
   "data": {"values": [{"p": 1895.1}]},
   "mark": {"type": "rule", "color": "#FFFF00", "strokeWidth": 1},
   "encoding": {"y": {"field": "p", "type": "quantitative", "scale": {"domain": [1888.11, 1974.4], "nice": false, "zero": false, "padding": 0}}}
  },
  {
   "data": {"values": [{"p": 1958.53}]},
   "mark": {"type": "rule", "color": "#A0A0A8", "strokeWidth": 1},
   "encoding": {"y": {"field": "p", "type": "quantitative", "scale": {"domain": [1888.11, 1974.4], "nice": false, "zero": false, "padding": 0}}}
  },
  {
   "data": {"name": "bars"},
   "mark": {"type": "rule", "strokeWidth": 1},
   "encoding": {
    "x": {"field": "n", "type": "quantitative", "scale": {"domain": [-0.375, 272.875], "nice": false, "zero": false, "padding": 0}},
    "y": {"field": "low", "type": "quantitative", "scale": {"domain": [1888.11, 1974.4], "nice": false, "zero": false, "padding": 0}},
    "y2": {"field": "high"},
    "color": {"condition": {"test": "datum.close >= datum.open", "value": "#FF0000"}, "value": "#00FF00"}
   }
  },
  {
   "data": {"name": "bars"},
   "mark": {"type": "bar", "size": 2, "strokeWidth": 1},
   "encoding": {
    "x": {"field": "n", "type": "quantitative", "scale": {"domain": [-0.375, 272.875], "nice": false, "zero": false, "padding": 0}},
    "y": {"field": "open", "type": "quantitative", "scale": {"domain": [1888.11, 1974.4], "nice": false, "zero": false, "padding": 0}},
    "y2": {"field": "close"},
    "stroke": {"condition": {"test": "datum.close >= datum.open", "value": "#FF0000"}, "value": "#00FF00"},
    "fill": {"condition": {"test": "datum.close >= datum.open", "value": "#000000"}, "value": "#00FF00"}
   }
  },
  {
   "data": {"values": [{"n": 241.375, "p": 1957.96}, {"n": 244.125, "p": 1959.48}, {"n": 245.625, "p": 1955.59}, {"n": 247.625, "p": 1962.94}, {"n": 251.125, "p": 1956.23}, {"n": 256.375, "p": 1972.67}]},
   "mark": {"type": "line", "color": "#FFFF00", "strokeWidth": 3},
   "encoding": {
    "x": {"field": "n", "type": "quantitative", "scale": {"domain": [-0.375, 272.875], "nice": false, "zero": false, "padding": 0}},
    "y": {"field": "p", "type": "quantitative", "scale": {"domain": [1888.11, 1974.4], "nice": false, "zero": false, "padding": 0}}
   }
  },
  {
   "data": {"values": [{"n": 243.9, "p": 1959.6}]},
   "mark": {"type": "point", "shape": "triangle-up", "angle": 57, "filled": true, "color": "#FFFF00", "opacity": 1, "size": 70},
   "encoding": {
    "x": {"field": "n", "type": "quantitative", "scale": {"domain": [-0.375, 272.875], "nice": false, "zero": false, "padding": 0}},
    "y": {"field": "p", "type": "quantitative", "scale": {"domain": [1888.11, 1974.4], "nice": false, "zero": false, "padding": 0}}
   }
  },
  {
   "data": {"values": [{"n": 247.5, "p": 1962.4}]},
   "mark": {"type": "point", "shape": "triangle-up", "angle": 13, "filled": true, "color": "#FFFF00", "opacity": 1, "size": 80},
   "encoding": {
    "x": {"field": "n", "type": "quantitative", "scale": {"domain": [-0.375, 272.875], "nice": false, "zero": false, "padding": 0}},
    "y": {"field": "p", "type": "quantitative", "scale": {"domain": [1888.11, 1974.4], "nice": false, "zero": false, "padding": 0}}
   }
  },
  {
   "data": {"values": [{"n": 250.9, "p": 1956.8}]},
   "mark": {"type": "point", "shape": "triangle-up", "angle": 156, "filled": true, "color": "#FFFF00", "opacity": 1, "size": 80},
   "encoding": {
    "x": {"field": "n", "type": "quantitative", "scale": {"domain": [-0.375, 272.875], "nice": false, "zero": false, "padding": 0}},
    "y": {"field": "p", "type": "quantitative", "scale": {"domain": [1888.11, 1974.4], "nice": false, "zero": false, "padding": 0}}
   }
  },
  {
   "data": {"values": [{"n": 256.2, "p": 1972.0}]},
   "mark": {"type": "point", "shape": "triangle-up", "angle": 15, "filled": true, "color": "#FFFF00", "opacity": 1, "size": 110},
   "encoding": {
    "x": {"field": "n", "type": "quantitative", "scale": {"domain": [-0.375, 272.875], "nice": false, "zero": false, "padding": 0}},
    "y": {"field": "p", "type": "quantitative", "scale": {"domain": [1888.11, 1974.4], "nice": false, "zero": false, "padding": 0}}
   }
  },
  {
   "data": {"values": [{"p": 1958.53, "label": "1958.53", "kind": "bid"}, {"p": 1895.1, "label": "1895.10", "kind": "level"}]},
   "mark": {"type": "bar", "size": 13},
   "encoding": {
    "x": {"datum": 273.5, "type": "quantitative", "scale": {"domain": [-0.375, 272.875], "nice": false, "zero": false, "padding": 0}},
    "x2": {"datum": 287.75},
    "y": {"field": "p", "type": "quantitative", "scale": {"domain": [1888.11, 1974.4], "nice": false, "zero": false, "padding": 0}},
    "color": {"condition": {"test": "datum.kind === 'bid'", "value": "#FFFFFF"}, "value": "#FFFF00"}
   }
  },
  {
   "data": {"values": [{"p": 1958.53, "label": "1958.53"}, {"p": 1895.1, "label": "1895.10"}]},
   "mark": {"type": "text", "align": "left", "baseline": "middle", "color": "#000000", "font": "DejaVu Sans", "fontSize": 11},
   "encoding": {
    "x": {"datum": 274.75, "type": "quantitative", "scale": {"domain": [-0.375, 272.875], "nice": false, "zero": false, "padding": 0}},
    "y": {"field": "p", "type": "quantitative", "scale": {"domain": [1888.11, 1974.4], "nice": false, "zero": false, "padding": 0}},
    "text": {"field": "label"}
   }
  },
  {
   "data": {"values": [{"t": "▼ XAUUSD.Exp,H1\u00a0\u00a0 1956.63 1958.82 1955.95 1958.53"}]},
   "mark": {"type": "text", "align": "left", "baseline": "middle", "color": "#FFFFFF", "font": "DejaVu Sans", "fontSize": 11},
   "encoding": {
    "x": {"datum": 0.875, "type": "quantitative", "scale": {"domain": [-0.375, 272.875], "nice": false, "zero": false, "padding": 0}},
    "y": {"datum": 1972.0, "type": "quantitative", "scale": {"domain": [1888.11, 1974.4], "nice": false, "zero": false, "padding": 0}},
    "text": {"field": "t"}
   }
  }
 ]
},
{
 "width": 1093,
 "height": 180,
 "layer": [
  {
   "data": {"name": "bars"},
   "mark": {"type": "rule", "strokeWidth": 1},
   "encoding": {
    "x": {"field": "n", "type": "quantitative", "scale": {"domain": [-0.375, 272.875], "nice": false, "zero": false, "padding": 0},
      "axis": {"orient": "bottom", "values": [0, 24, 48, 72, 96, 120, 144, 168, 192, 216, 240], "labelAlign": "left", "labelPadding": 1, "tickSize": 4,
        "labelExpr": "['28 Mar 2022','29 Mar 18:00','30 Mar 19:00','31 Mar 20:00','3 Apr 22:05','4 Apr 23:00','6 Apr 00:00','7 Apr 01:00','8 Apr 02:00','11 Apr 03:00','12 Apr 04:00'][round(datum.value/24)]"}},
    "y": {"field": "hist", "type": "quantitative", "scale": {"domain": [-9.55, 7.38], "nice": false, "zero": false, "padding": 0},
      "axis": {"orient": "right", "values": [6.71, 0, -8.704], "labelPadding": 3, "tickSize": 4, "labelExpr": "datum.value < -8 ? '-8.704' : format(datum.value, '.2f')"}},
    "y2": {"datum": 0},
    "color": {"condition": {"test": "datum.hist >= 0", "value": "#DC143C"}, "value": "#006400"}
   }
  },
  {
   "data": {"name": "bars"},
   "mark": {"type": "line", "color": "#FFFFFF", "strokeWidth": 2},
   "encoding": {
    "x": {"field": "n", "type": "quantitative", "scale": {"domain": [-0.375, 272.875], "nice": false, "zero": false, "padding": 0}},
    "y": {"field": "macd", "type": "quantitative", "scale": {"domain": [-9.55, 7.38], "nice": false, "zero": false, "padding": 0}}
   }
  },
  {
   "data": {"name": "bars"},
   "mark": {"type": "line", "color": "#FFFF00", "strokeWidth": 2},
   "encoding": {
    "x": {"field": "n", "type": "quantitative", "scale": {"domain": [-0.375, 272.875], "nice": false, "zero": false, "padding": 0}},
    "y": {"field": "signal", "type": "quantitative", "scale": {"domain": [-9.55, 7.38], "nice": false, "zero": false, "padding": 0}}
   }
  },
  {
   "data": {"values": [{"t": "MACD(12,26,9) 3.145 2.832 0.407 0.000 3.145 2.832"}]},
   "mark": {"type": "text", "align": "left", "baseline": "middle", "color": "#E8ECF0", "font": "DejaVu Sans", "fontSize": 11},
   "encoding": {
    "x": {"datum": 1.125, "type": "quantitative", "scale": {"domain": [-0.375, 272.875], "nice": false, "zero": false, "padding": 0}},
    "y": {"datum": 6.35, "type": "quantitative", "scale": {"domain": [-9.55, 7.38], "nice": false, "zero": false, "padding": 0}},
    "text": {"field": "t"}
   }
  }
 ]
}
]
}
